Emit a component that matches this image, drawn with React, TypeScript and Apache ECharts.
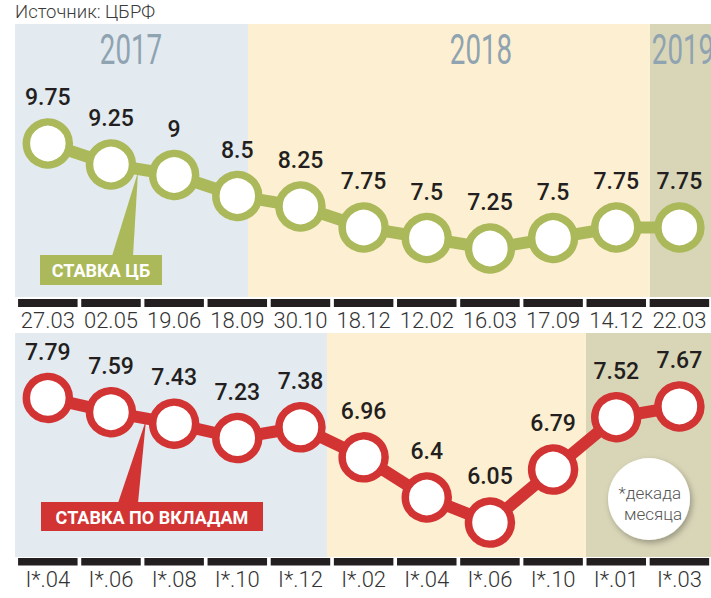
import React, { useEffect, useRef } from "react";
import * as echarts from "echarts";

const topDates = ["27.03", "02.05", "19.06", "18.09", "30.10", "18.12", "12.02", "16.03", "17.09", "14.12", "22.03"];
const keyRate = [9.75, 9.25, 9, 8.5, 8.25, 7.75, 7.5, 7.25, 7.5, 7.75, 7.75];
const bottomDecades = ["I*.04", "I*.06", "I*.08", "I*.10", "I*.12", "I*.02", "I*.04", "I*.06", "I*.10", "I*.01", "I*.03"];
const depositRate = [7.79, 7.59, 7.43, 7.23, 7.38, 6.96, 6.4, 6.05, 6.79, 7.52, 7.67];
const years = ["2017", "2018", "2019"];
const sourceText = "Источник: ЦБРФ";
const keyRateTitle = "СТАВКА ЦБ";
const depositTitle = "СТАВКА ПО ВКЛАДАМ";
const noteLines = ["*декада", "месяца"];

const GREEN = "#abb95a";
const RED = "#d23434";
const BLUE_BG = "#e3eaf0";
const YELLOW_BG = "#fdefd2";
const OLIVE_BG = "#d9d6b8";
const YEAR_COLOR = "#8fa3b1";
const DARK = "#231f20";
const FONT = "Roboto, 'DejaVu Sans', sans-serif";

const GRID_LEFT = 16.25;
const GRID_WIDTH = 698.5;

export default function App() {
  const ref = useRef<HTMLDivElement>(null);

  useEffect(() => {
    if (!ref.current) return;
    const chart = echarts.init(ref.current, null, { renderer: "svg" });

    const valueLabel = {
      show: true,
      position: "top" as const,
      distance: 9,
      fontSize: 23,
      fontWeight: 500 as any,
      fontFamily: FONT,
      color: DARK,
    };
    const axisLabelStyle = {
      fontSize: 22,
      fontWeight: 300 as any,
      fontFamily: FONT,
      color: "#333",
    };

    const option: any = {
      animation: false,
      grid: [
        { left: GRID_LEFT, width: GRID_WIDTH, top: 28, height: 273 },
        { left: GRID_LEFT, width: GRID_WIDTH, top: 299, height: 8 },
        { left: GRID_LEFT, width: GRID_WIDTH, top: 347, height: 215 },
        { left: GRID_LEFT, width: GRID_WIDTH, top: 558, height: 7.5 },
      ],
      xAxis: [
        { type: "category", gridIndex: 0, data: topDates, show: false },
        {
          type: "category", gridIndex: 1, data: topDates, position: "bottom",
          axisLine: { show: false }, axisTick: { show: false },
          axisLabel: { ...axisLabelStyle, margin: 2, interval: 0 },
        },
        { type: "category", gridIndex: 2, data: bottomDecades, show: false },
        {
          type: "category", gridIndex: 3, data: bottomDecades, position: "bottom",
          axisLine: { show: false }, axisTick: { show: false },
          axisLabel: { ...axisLabelStyle, margin: 3, interval: 0 },
        },
      ],
      yAxis: [
        { type: "value", gridIndex: 0, min: 6, max: 12.5, show: false },
        { type: "value", gridIndex: 1, min: 0, max: 1, show: false },
        { type: "value", gridIndex: 2, min: 5.5, max: 8.5, show: false },
        { type: "value", gridIndex: 3, min: 0, max: 1, show: false },
      ],
      series: [
        {
          type: "line", xAxisIndex: 0, yAxisIndex: 0, data: keyRate,
          symbol: "circle", symbolSize: 43, clip: false, z: 3,
          itemStyle: { color: "#fff", borderColor: GREEN, borderWidth: 7.5 },
          lineStyle: { color: GREEN, width: 12 },
          label: valueLabel,
          emphasis: { disabled: true },
        },
        {
          type: "bar", xAxisIndex: 1, yAxisIndex: 1, data: topDates.map(() => 1),
          barWidth: 59.5, itemStyle: { color: DARK }, silent: true,
        },
        {
          type: "line", xAxisIndex: 2, yAxisIndex: 2, data: depositRate,
          symbol: "circle", symbolSize: 43, clip: false, z: 3,
          itemStyle: { color: "#fff", borderColor: RED, borderWidth: 7.5 },
          lineStyle: { color: RED, width: 12 },
          label: valueLabel,
          emphasis: { disabled: true },
        },
        {
          type: "bar", xAxisIndex: 3, yAxisIndex: 3, data: bottomDecades.map(() => 1),
          barWidth: 59.5, itemStyle: { color: DARK }, silent: true,
        },
      ],
      graphic: [
        // top panel bands
        { type: "rect", z: -10, shape: { x: 15, y: 24, width: 233, height: 273 }, style: { fill: BLUE_BG } },
        { type: "rect", z: -10, shape: { x: 248, y: 24, width: 402, height: 273 }, style: { fill: YELLOW_BG } },
        { type: "rect", z: -10, shape: { x: 650, y: 24, width: 61, height: 273 }, style: { fill: OLIVE_BG } },
        // bottom panel bands
        { type: "rect", z: -10, shape: { x: 15, y: 333, width: 312, height: 224 }, style: { fill: BLUE_BG } },
        { type: "rect", z: -10, shape: { x: 327, y: 333, width: 259, height: 224 }, style: { fill: YELLOW_BG } },
        { type: "rect", z: -10, shape: { x: 586, y: 333, width: 125, height: 224 }, style: { fill: OLIVE_BG } },
        // source
        {
          type: "text", x: 15, y: 12,
          style: { text: sourceText, fontSize: 18.5, fontWeight: 300, fontFamily: FONT, fill: "#3a3a3a", textAlign: "left", textVerticalAlign: "middle" },
        },
        // years
        ...[
          { t: years[0], x: 131 },
          { t: years[1], x: 481 },
          { t: years[2], x: 683 },
        ].map((yr) => ({
          type: "text", x: yr.x, y: 50, scaleX: 0.66, z: -5,
          style: { text: yr.t, fontSize: 42, fontFamily: FONT, fill: YEAR_COLOR, textAlign: "center", textVerticalAlign: "middle" },
        })),
        // green callout
        { type: "polygon", z: 1, shape: { points: [[112, 256], [133, 256], [138, 172]] }, style: { fill: GREEN } },
        { type: "rect", z: 1, shape: { x: 40, y: 255, width: 122, height: 30 }, style: { fill: GREEN } },
        {
          type: "text", z: 2, x: 101, y: 270.5,
          style: { text: keyRateTitle, fontSize: 18, fontWeight: "bold", fontFamily: FONT, fill: "#fff", textAlign: "center", textVerticalAlign: "middle" },
        },
        // red callout
        { type: "polygon", z: 1, shape: { points: [[118, 503], [138, 503], [146, 420]] }, style: { fill: RED } },
        { type: "rect", z: 1, shape: { x: 41, y: 502, width: 222, height: 29 }, style: { fill: RED } },
        {
          type: "text", z: 2, x: 152, y: 517,
          style: { text: depositTitle, fontSize: 18, fontWeight: "bold", fontFamily: FONT, fill: "#fff", textAlign: "center", textVerticalAlign: "middle" },
        },
        // note circle
        {
          type: "circle", z: 1, shape: { cx: 649, cy: 499, r: 41 },
          style: { fill: "#fff", shadowBlur: 6, shadowColor: "rgba(0,0,0,0.3)", shadowOffsetX: 2, shadowOffsetY: 3 },
        },
        {
          type: "text", z: 2, x: 681, y: 493,
          style: { text: noteLines[0], fontSize: 17, fontWeight: 300, fontFamily: FONT, fill: "#555", textAlign: "right", textVerticalAlign: "middle" },
        },
        {
          type: "text", z: 2, x: 682, y: 514,
          style: { text: noteLines[1], fontSize: 17, fontWeight: 300, fontFamily: FONT, fill: "#555", textAlign: "right", textVerticalAlign: "middle" },
        },
      ],
    };

    chart.setOption(option);
    return () => chart.dispose();
  }, []);

  return (
    <div
      ref={ref}
      style={{ position: "fixed", left: 0, top: 0, width: 711, height: 598, background: "#fff" }}
    />
  );
}
